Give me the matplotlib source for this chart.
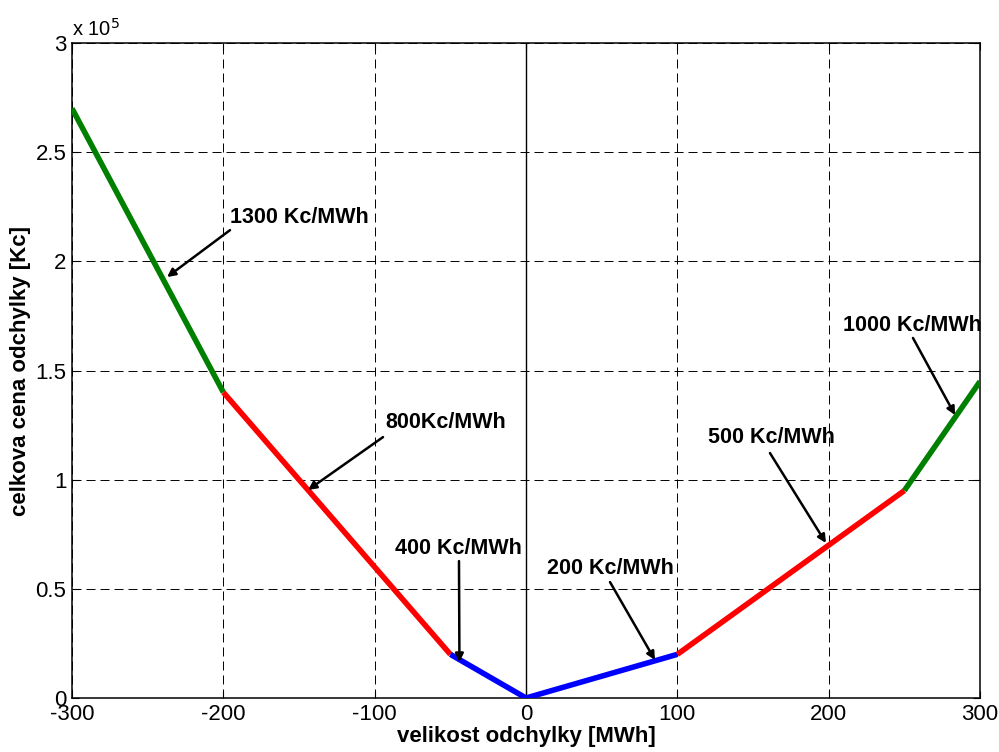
import matplotlib
matplotlib.use("Agg")
import matplotlib.pyplot as plt
from matplotlib.ticker import FuncFormatter

plt.rcParams["font.family"] = ["Liberation Sans", "DejaVu Sans"]
plt.rcParams["axes.unicode_minus"] = False

# lomove body krivky ceny odchylky
odchylka = [-300, -200, -50, 0, 100, 250, 300]
cena = [270000, 140000, 20000, 0, 20000, 95000, 145000]
barvy = ["#008000", "#ff0000", "#0000ff", "#0000ff", "#ff0000", "#008000"]

# popisky sazeb
popisky = ["1300 Kc/MWh", "800Kc/MWh", "400 Kc/MWh",
           "200 Kc/MWh", "500 Kc/MWh", "1000 Kc/MWh"]
popisky_xy = [(-195.6, 220300), (-93.2, 126400), (-86.6, 68700),
              (13.9, 59500), (120.3, 119100), (209.5, 170800)]
sipky_od = [(-195.6, 214300), (-94.5, 119500), (-44.3, 62700),
            (55.5, 53100), (161.2, 112200), (255.7, 164900)]
sipky_do = [(-237.2, 192800), (-144.0, 95300), (-44.0, 16500),
            (85.2, 17400), (198.2, 71000), (283.5, 129600)]

x_ticks = [-300, -200, -100, 0, 100, 200, 300]
y_ticks = [0, 50000, 100000, 150000, 200000, 250000, 300000]

fig = plt.figure(figsize=(9.99, 7.52), dpi=100)
ax = fig.add_axes([0.0721, 0.0718, 0.9089, 0.871])

for i in range(len(barvy)):
    ax.plot(odchylka[i:i + 2], cena[i:i + 2], color=barvy[i],
            linewidth=4.0, solid_capstyle="butt", zorder=3)

ax.axvline(0, color="black", linewidth=1.0, zorder=2)

for text, xy in zip(popisky, popisky_xy):
    ax.text(xy[0], xy[1], text, fontsize=15.5, fontweight="bold",
            ha="left", va="center", zorder=5)

for a, b in zip(sipky_od, sipky_do):
    ax.annotate("", xy=b, xytext=a,
                arrowprops=dict(arrowstyle="-|>", color="black", lw=1.8,
                                mutation_scale=12, shrinkA=0, shrinkB=0),
                zorder=4)

ax.set_xlim(-300, 300)
ax.set_ylim(0, 300000)
ax.set_xticks(x_ticks)
ax.set_yticks(y_ticks)
ax.yaxis.set_major_formatter(FuncFormatter(lambda v, p: "%g" % (v / 1e5)))
ax.tick_params(direction="in", top=True, right=True, labelsize=16,
               length=5, width=0.8, pad=4)
ax.grid(True, color="black", linestyle=(0, (9.3, 5.1)), linewidth=0.7)
for s in ax.spines.values():
    s.set_linewidth(1.1)

ax.text(0.0, 1.0107, "x 10$^{5}$", transform=ax.transAxes, fontsize=14.5,
        ha="left", va="baseline")

ax.set_xlabel("velikost odchylky [MWh]", fontsize=16, fontweight="bold",
              labelpad=1)
ax.set_ylabel("celkova cena odchylky [Kc]", fontsize=16, fontweight="bold",
              labelpad=3)

fig.savefig("out.png", dpi=100)
